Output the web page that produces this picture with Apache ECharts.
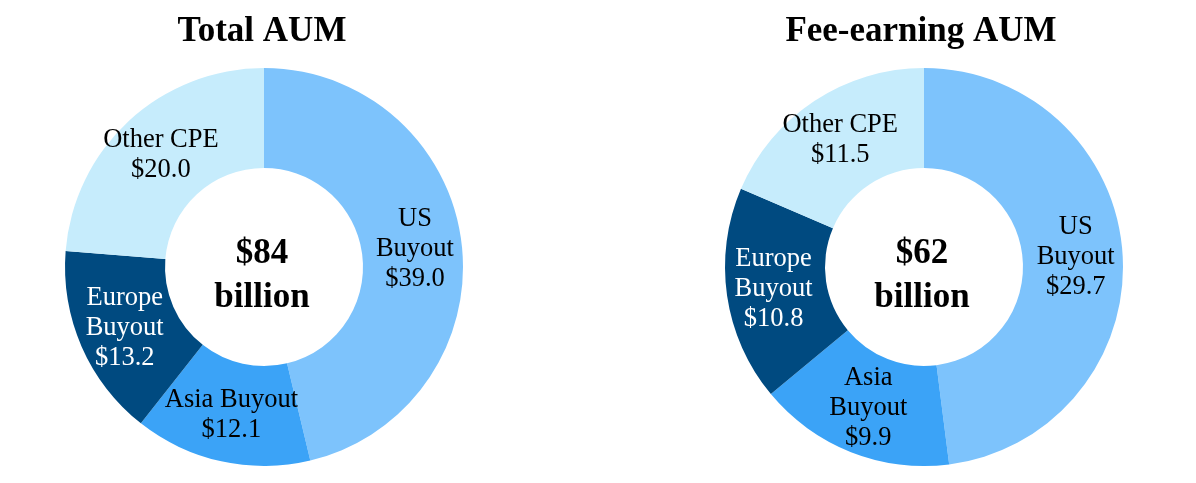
<!DOCTYPE html>
<html><head><meta charset="utf-8">
<script src="https://cdn.jsdelivr.net/npm/echarts@6/dist/echarts.min.js"></script>
<style>html,body{margin:0;padding:0;background:#fff}#c{width:1196px;height:483px}</style>
</head><body><div id="c"></div>
<script>
const categories = ["US Buyout", "Asia Buyout", "Europe Buyout", "Other CPE"];
const totalValues = [39.0, 12.1, 13.2, 20.0];
const feeValues = [29.7, 9.9, 10.8, 11.5];
const totalLabelNames = ["US\nBuyout", "Asia Buyout", "Europe\nBuyout", "Other CPE"];
const feeLabelNames = ["US\nBuyout", "Asia\nBuyout", "Europe\nBuyout", "Other CPE"];
const chartTitles = ["Total AUM", "Fee-earning AUM"];
const centerTexts = ["$84\nbillion", "$62\nbillion"];
const colors = ["#7dc3fc", "#3ba3f7", "#004a80", "#c6ecfc"];
const labelColors = ["#000", "#000", "#fff", "#000"];
const FONT = "'Liberation Serif', 'Times New Roman', serif";

function makeData(vals, names) {
  return categories.map((c, i) => ({
    name: c, value: vals[i],
    itemStyle: { color: colors[i] },
    label: { color: labelColors[i], formatter: names[i] + "\n$" + vals[i].toFixed(1) }
  }));
}
function pie(cx, vals, names) {
  return {
    type: 'pie', center: [cx, 267], radius: [99, 199], startAngle: 90, clockwise: true,
    avoidLabelOverlap: false, silent: true, animation: false,
    label: { show: true, position: 'inside', fontFamily: FONT, fontSize: 26.5, lineHeight: 30 },
    labelLine: { show: false },
    itemStyle: { borderWidth: 0 },
    data: makeData(vals, names)
  };
}
const chart = echarts.init(document.getElementById('c'), null, { renderer: 'canvas' });
chart.setOption({
  backgroundColor: '#fff',
  title: [
    { text: chartTitles[0], left: 262, top: 14, textAlign: 'center', padding: 0,
      textStyle: { fontFamily: FONT, fontSize: 35, fontWeight: 'bold', color: '#000' } },
    { text: chartTitles[1], left: 921, top: 14, textAlign: 'center', padding: 0,
      textStyle: { fontFamily: FONT, fontSize: 35, fontWeight: 'bold', color: '#000' } },
    { text: centerTexts[0], left: 262, top: 232, textAlign: 'center', padding: 0,
      textStyle: { fontFamily: FONT, fontSize: 35, lineHeight: 44, fontWeight: 'bold', color: '#000' } },
    { text: centerTexts[1], left: 922, top: 232, textAlign: 'center', padding: 0,
      textStyle: { fontFamily: FONT, fontSize: 35, lineHeight: 44, fontWeight: 'bold', color: '#000' } }
  ],
  series: [pie(264, totalValues, totalLabelNames), pie(924, feeValues, feeLabelNames)]
});
</script></body></html>
